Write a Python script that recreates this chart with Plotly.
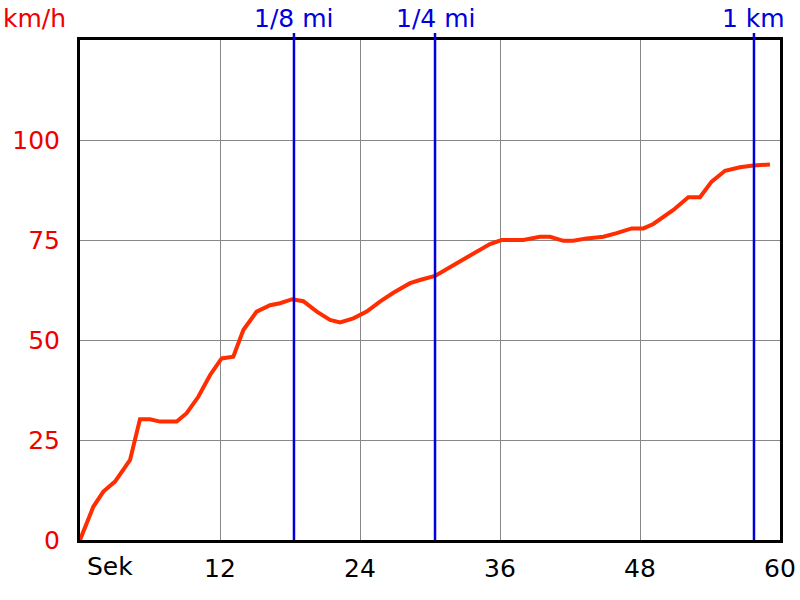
import plotly.graph_objects as go

# Data
time_s = [0, 1.14, 2.0, 3.0, 4.29, 5.14, 6.0, 6.86, 8.29, 9.14, 10.14, 11.14, 12.14, 13.14,
          14.0, 15.14, 16.29, 17.14, 18.2, 19.14, 20.3, 21.43, 22.29, 23.43, 24.57, 25.71,
          26.86, 28.29, 29.14, 30.43, 32.0, 33.71, 35.14, 36.14, 38.0, 39.43, 40.29, 41.43,
          42.29, 43.43, 44.86, 46.0, 47.29, 48.29, 49.14, 50.86, 52.14, 53.14, 54.14, 55.29,
          56.57, 57.71, 59.14]
speed_kmh = [0, 8.3, 12.1, 14.6, 20.0, 30.2, 30.2, 29.6, 29.6, 31.7, 35.8, 41.2, 45.4, 45.8,
             52.5, 57.1, 58.7, 59.2, 60.2, 59.7, 57.1, 55.0, 54.4, 55.4, 57.1, 59.6,
             61.8, 64.2, 65.0, 66.0, 68.7, 71.7, 74.0, 75.0, 75.0, 75.8, 75.8, 74.8,
             74.8, 75.4, 75.8, 76.7, 77.9, 77.9, 79.0, 82.5, 85.7, 85.7, 89.6, 92.3,
             93.2, 93.6, 93.9]

x_ticks = [12, 24, 36, 48, 60]
y_ticks = [0, 25, 50, 75, 100]

mark_pos = [18.34, 30.43, 57.77]
mark_labels = ["1/8 mi", "1/4 mi", "1 km"]

FONT = "DejaVu Sans, Verdana, sans-serif"
FS = 25
BLUE = "#0000dd"
RED = "#ee0000"

fig = go.Figure()
fig.add_trace(go.Scatter(x=time_s, y=speed_kmh, mode="lines",
                         line=dict(color="rgb(255,45,0)", width=4),
                         hoverinfo="skip", showlegend=False))

shapes = []
annotations = []
for pos, lab in zip(mark_pos, mark_labels):
    shapes.append(dict(type="line", xref="x", yref="paper", x0=pos, x1=pos,
                       y0=0, y1=1.014, line=dict(color=BLUE, width=2.5), layer="above"))
    annotations.append(dict(x=pos, y=1, xref="x", yref="paper", text=lab,
                            showarrow=False, xanchor="center", yanchor="middle",
                            yshift=22, borderpad=0,
                            font=dict(family=FONT, size=FS, color=BLUE)))

annotations.append(dict(x=-13 / 700, y=1, xref="paper", yref="paper", text="km/h",
                        showarrow=False, xanchor="right", yanchor="middle", yshift=22,
                        borderpad=0, font=dict(family=FONT, size=FS, color=RED)))
annotations.append(dict(x=2.57, y=0, xref="x", yref="paper", text="Sek",
                        showarrow=False, xanchor="center", yanchor="middle", yshift=-26,
                        borderpad=0, font=dict(family=FONT, size=FS, color="black")))

fig.update_layout(
    width=800, height=600,
    margin=dict(l=80, r=20, t=40, b=60),
    paper_bgcolor="white", plot_bgcolor="white",
    font=dict(family=FONT, size=FS),
    shapes=shapes, annotations=annotations,
    showlegend=False,
    xaxis=dict(range=[0, 60], tickvals=x_ticks, ticktext=[str(v) for v in x_ticks],
               showgrid=True, gridcolor="#888888", gridwidth=1,
               showline=True, linecolor="black", linewidth=3, mirror=True,
               ticks="", zeroline=False, ticklabelstandoff=4, automargin=False,
               tickfont=dict(family=FONT, size=FS, color="black")),
    yaxis=dict(range=[0, 125], tickvals=y_ticks, ticktext=[str(v) for v in y_ticks],
               showgrid=True, gridcolor="#888888", gridwidth=1,
               showline=True, linecolor="black", linewidth=3, mirror=True,
               ticks="", zeroline=False, ticklabelstandoff=12, automargin=False,
               tickfont=dict(family=FONT, size=FS, color=RED)),
)

# remove the default page margin so the figure sits at the window's top-left corner
fig.write_html("out.html", config={"displayModeBar": False, "staticPlot": True},
               post_script="document.body.style.margin='0';")
